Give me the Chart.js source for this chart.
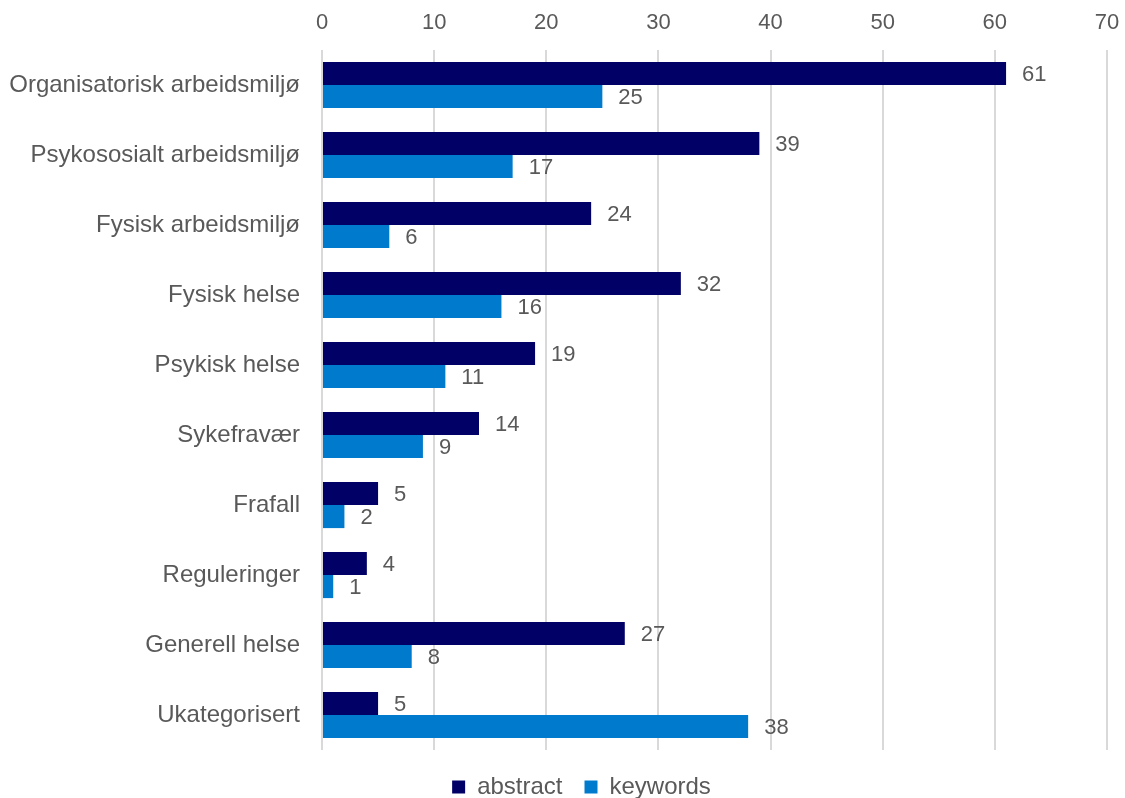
<!DOCTYPE html>
<html>
<head>
<meta charset="utf-8">
<script src="https://cdn.jsdelivr.net/npm/chart.js@4/dist/chart.umd.min.js"></script>
<style>
  html, body { margin: 0; padding: 0; background: #fff; }
</style>
</head>
<body>
<canvas id="temachart" width="1125" height="798"></canvas>
<script>
var categories = [
    'Organisatorisk arbeidsmiljø',
    'Psykososialt arbeidsmiljø',
    'Fysisk arbeidsmiljø',
    'Fysisk helse',
    'Psykisk helse',
    'Sykefravær',
    'Frafall',
    'Reguleringer',
    'Generell helse',
    'Ukategorisert'
];
var abstractCounts = [61, 39, 24, 32, 19, 14, 5, 4, 27, 5];
var keywordCounts = [25, 17, 6, 16, 11, 9, 2, 1, 8, 38];
var xTicks = [0, 10, 20, 30, 40, 50, 60, 70];

var textGrey = '#595959';
var fontFamily = '"Liberation Sans", Arial, sans-serif';

// write each value just past the end of its bar
var valueLabels = {
    id: 'valueLabels',
    afterDatasetsDraw: function(chart) {
        var ctx = chart.ctx;
        ctx.save();
        ctx.font = '22px ' + fontFamily;
        ctx.fillStyle = textGrey;
        ctx.textAlign = 'left';
        ctx.textBaseline = 'middle';
        chart.data.datasets.forEach(function(ds, i) {
            chart.getDatasetMeta(i).data.forEach(function(bar, j) {
                ctx.fillText(String(ds.data[j]), bar.x + 16, bar.y + 1);
            });
        });
        ctx.restore();
    }
};

// legend sits under the plot area rather than the whole canvas
var legendNudge = {
    id: 'legendNudge',
    afterLayout: function(chart) {
        var lg = chart.legend;
        lg.left += 28; lg.right += 28;
        lg.top += 3; lg.bottom += 3;
    }
};

var chart1 = document.getElementById('temachart');
var myChart1 = new Chart(chart1, {
    type: 'bar',
    data: {
        labels: categories,
        datasets: [{
            label: 'abstract',
            data: abstractCounts,
            backgroundColor: '#000066',
            borderWidth: 0
        }, {
            label: 'keywords',
            data: keywordCounts,
            backgroundColor: '#007ACC',
            borderWidth: 0
        }]
    },
    plugins: [valueLabels, legendNudge],
    options: {
        indexAxis: 'y',
        responsive: false,
        animation: false,
        devicePixelRatio: 1,
        layout: { padding: { left: 0, right: 18, top: 0, bottom: -8 } },
        datasets: {
            bar: { categoryPercentage: 0.66, barPercentage: 1.0 }
        },
        scales: {
            x: {
                position: 'top',
                min: 0,
                max: 70,
                afterBuildTicks: function(axis) {
                    axis.ticks = xTicks.map(function(v) { return { value: v }; });
                },
                afterFit: function(axis) {
                    axis.height = 50;
                    axis.paddingLeft = 0;
                    axis.paddingRight = 0;
                },
                grid: { color: '#d9d9d9', lineWidth: 2, drawTicks: false },
                border: { display: false },
                ticks: {
                    color: textGrey,
                    padding: 14,
                    font: { size: 22, family: fontFamily }
                }
            },
            y: {
                afterFit: function(axis) { axis.width = 322; },
                grid: { display: false },
                border: { display: false },
                ticks: {
                    color: textGrey,
                    padding: 14,
                    font: { size: 24, family: fontFamily }
                }
            }
        },
        plugins: {
            legend: {
                position: 'bottom',
                labels: {
                    color: textGrey,
                    boxWidth: 13,
                    boxHeight: 13,
                    padding: 22,
                    font: { size: 24, family: fontFamily }
                }
            },
            tooltip: { enabled: false }
        }
    }
});
</script>
</body>
</html>
